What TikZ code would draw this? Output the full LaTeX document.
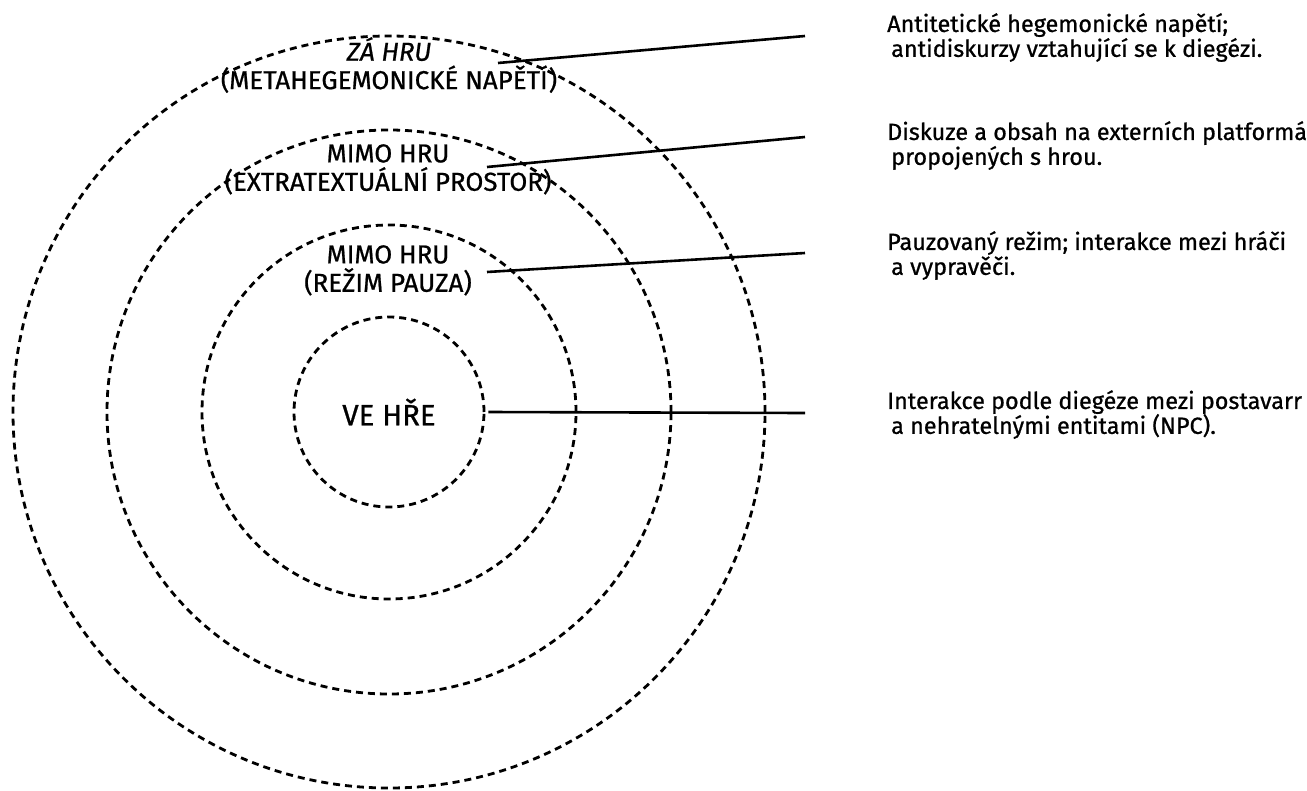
\documentclass[tikz,border=0pt]{standalone}
\usepackage{fontspec}
\setmainfont{Fira Sans}[FakeBold=0.8]
\usetikzlibrary{positioning}

\begin{document}
\begin{tikzpicture}[x=1bp,y=-1bp,
  ring/.style={circle, draw=black, line width=2.8bp, dash pattern=on 7bp off 5bp, inner sep=0pt},
  ringlabel/.style={font=\fontsize{26}{28.5}\selectfont, align=center, anchor=north, inner sep=0pt},
  desc/.style={font=\fontsize{23.5}{25}\selectfont, align=left, anchor=north west, inner sep=0pt},
  lead/.style={line width=2.6bp}]

 % page size of the reference
 \useasboundingbox (0,0) rectangle (1307,790);

 % center of all rings
 \coordinate (C) at (389,412);

 % the four dashed rings
 \node[ring, minimum size=752bp] (zaHruRing) at (C) {};
 \node[ring, minimum size=564bp] (mimoRing) at (C) {};
 \node[ring, minimum size=374bp] (pauzaRing) at (C) {};
 \node[ring, minimum size=190bp,
  font=\fontsize{29.5}{31}\selectfont] (veHre) at (C) {VE HŘE};

 % labels inside the rings
 \node[ringlabel] (zaHru) at (389,37) {\itshape ZÁ HRU\\(METAHEGEMONICKÉ NAPĚTÍ)};
 \node[ringlabel] (mimoHru) at (388,144) {MIMO HRU\\(EXTRATEXTUÁLNÍ PROSTOR)};
 \node[ringlabel] (pauza) at (388,245) {MIMO HRU\\(REŽIM PAUZA)};

 % descriptions on the right
 \node[desc] (descZa) at (887,13)
  {Antitetické hegemonické napětí;\\\hspace*{4bp}antidiskurzy vztahující se k diegézi.};
 \node[desc] (descMimo) at (887,121)
  {Diskuze a obsah na externích platformá\\\hspace*{4bp}propojených s hrou.};
 \node[desc] (descPauza) at (887,231)
  {Pauzovaný režim; interakce mezi hráči\\\hspace*{4bp}a vypravěči.};
 \node[desc] (descVe) at (887,390)
  {Interakce podle diegéze mezi postavarr\\\hspace*{4bp}a nehratelnými entitami (NPC).};

 % ends of the leader lines
 \coordinate (s1) at (498,63);
 \coordinate (e1) at (805,36);
 \coordinate (s2) at (487,167);
 \coordinate (e2) at (805,137);
 \coordinate (s3) at (487,272);
 \coordinate (e3) at (805,253);
 \coordinate (e4) at (805,413);

 % leader lines
 \draw[lead] (s1) -- (e1);
 \draw[lead] (s2) -- (e2);
 \draw[lead] (s3) -- (e3);
 \draw[lead] ([xshift=3bp]veHre.east) -- (e4);

\end{tikzpicture}
\end{document}
